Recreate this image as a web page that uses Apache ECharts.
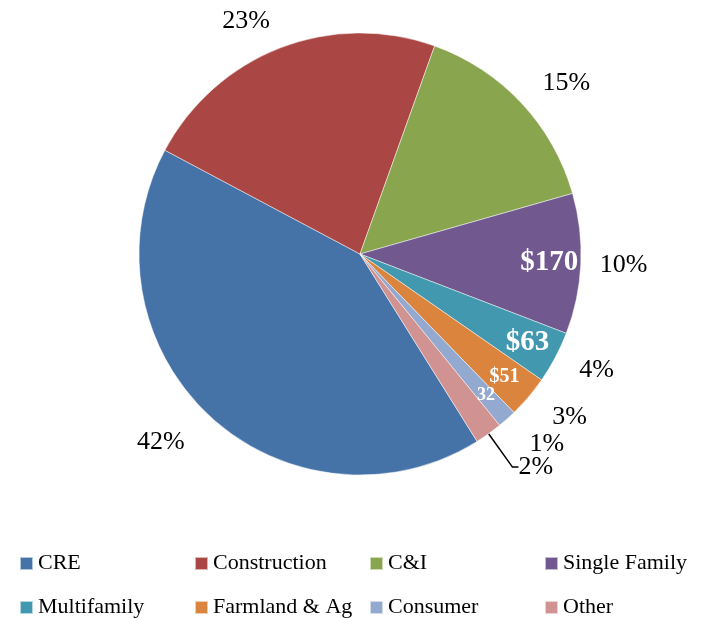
<!DOCTYPE html>
<html>
<head>
<meta charset="utf-8">
<style>
  html, body { margin: 0; padding: 0; background: #fff; }
  #chart { width: 703px; height: 618px; }
</style>
<script src="https://cdn.jsdelivr.net/npm/echarts@6/dist/echarts.min.js"></script>
</head>
<body>
<div id="chart"></div>
<script>
// 贷款组合构成
var categories = ['CRE', 'Construction', 'C&I', 'Single Family', 'Multifamily', 'Farmland & Ag', 'Consumer', 'Other'];
var values = [690, 376, 250, 170, 63, 51, 23, 33];
var innerLabels = ['', '', '', '$170', '$63', '$51', '32', ''];
var colors = ['#4572A7', '#AA4643', '#89A54E', '#71588F', '#4198AF', '#DB843D', '#93A9CF', '#D19392'];

var font = 'Liberation Serif';

//外部标签引线长度（调位置用）
var lineLen = [36, 29, 29, 19, 27, 31, 34, 41];

//内部标签字号
function innerStyle(i) {
  if (i === 3 || i === 4) return 'big';
  if (i === 5) return 'mid';
  return 'small';
}

var pieData = categories.map(function (name, i) {
  return {
    name: name,
    value: values[i],
    labelLine: {
      show: i === 7,
      length: lineLen[i],
      length2: i === 7 ? 6 : 0
    }
  };
});

var innerData = categories.map(function (name, i) {
  return { name: name, value: values[i] };
});

var chartDiv = echarts.init(document.getElementById('chart'));
var option = {
  backgroundColor: '#fff',
  color: colors,
  animation: false,
  legend: {
    data: categories,
    left: 19,
    top: 546,
    width: 700,
    padding: 0,
    orient: 'horizontal',
    itemWidth: 13,
    itemHeight: 13,
    itemGap: 9,
    icon: 'rect',
    textStyle: {
      fontFamily: font,
      fontSize: 22,
      color: '#000',
      width: 147,
      lineHeight: 35
    }
  },
  series: [
    {
      name: '百分比',
      type: 'pie',
      center: [360, 254],
      radius: 221,
      startAngle: -58,
      clockwise: true,
      avoidLabelOverlap: false,
      labelLayout: { hideOverlap: false },
      itemStyle: { borderColor: 'rgba(255,255,255,0.6)', borderWidth: 0.8 },
      label: {
        show: true,
        position: 'outside',
        formatter: '{d}%',
        fontFamily: font,
        fontSize: 26,
        color: '#000',
        distanceToLabelLine: 0
      },
      percentPrecision: 0,
      labelLine: {
        lineStyle: { color: '#000', width: 1.5 }
      },
      emphasis: { disabled: true },
      data: pieData
    },
    {
      name: '金额',
      type: 'pie',
      center: [360, 254],
      radius: [152, 221],
      startAngle: -58,
      clockwise: true,
      silent: true,
      itemStyle: { color: 'rgba(0,0,0,0)' },
      label: {
        show: true,
        position: 'inside',
        rotate: 0,
        formatter: function (p) {
          var t = innerLabels[p.dataIndex];
          return t ? '{' + innerStyle(p.dataIndex) + '|' + t + '}' : '';
        },
        rich: {
          big: { fontFamily: font, fontSize: 29, fontWeight: 'bold', color: '#fff' },
          mid: { fontFamily: font, fontSize: 20, fontWeight: 'bold', color: '#fff' },
          small: { fontFamily: font, fontSize: 18, fontWeight: 'bold', color: '#fff' }
        }
      },
      labelLine: { show: false },
      emphasis: { disabled: true },
      data: innerData
    }
  ]
};
chartDiv.setOption(option);
</script>
</body>
</html>
